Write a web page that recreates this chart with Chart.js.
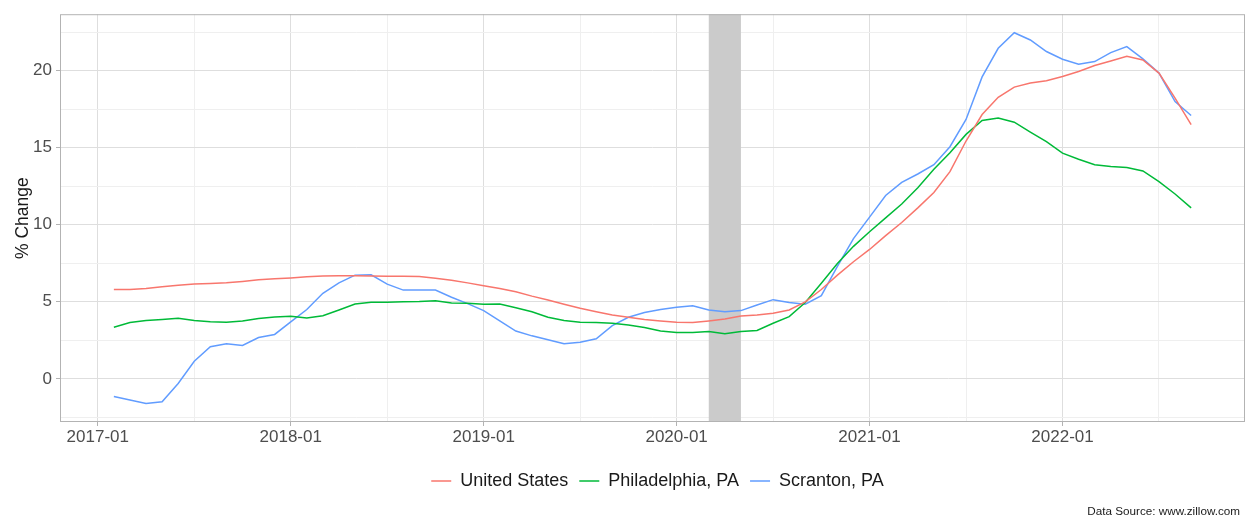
<!DOCTYPE html>
<html lang="en">
<head>
    <meta charset="UTF-8">
    <title>Home Value Change</title>
    <script src="https://cdn.jsdelivr.net/npm/chart.js"></script>
    <style>
        html, body { margin: 0; padding: 0; background: #fff; }
        #wrap { width: 1246px; height: 519px; }
    </style>
</head>
<body>
    <div id="wrap"><canvas id="chart" width="1246" height="519"></canvas></div>

    <script>
        // month-end values, Jan 2017 .. Aug 2022
        const months = [
            '2017-01','2017-02','2017-03','2017-04','2017-05','2017-06','2017-07','2017-08','2017-09','2017-10','2017-11','2017-12',
            '2018-01','2018-02','2018-03','2018-04','2018-05','2018-06','2018-07','2018-08','2018-09','2018-10','2018-11','2018-12',
            '2019-01','2019-02','2019-03','2019-04','2019-05','2019-06','2019-07','2019-08','2019-09','2019-10','2019-11','2019-12',
            '2020-01','2020-02','2020-03','2020-04','2020-05','2020-06','2020-07','2020-08','2020-09','2020-10','2020-11','2020-12',
            '2021-01','2021-02','2021-03','2021-04','2021-05','2021-06','2021-07','2021-08','2021-09','2021-10','2021-11','2021-12',
            '2022-01','2022-02','2022-03','2022-04','2022-05','2022-06','2022-07','2022-08'
        ];

        const unitedStates = [
            5.80, 5.80, 5.87, 5.98, 6.08, 6.15, 6.19, 6.23, 6.32, 6.43, 6.49, 6.55,
            6.62, 6.68, 6.70, 6.70, 6.68, 6.66, 6.66, 6.64, 6.53, 6.40, 6.23, 6.04,
            5.87, 5.65, 5.37, 5.12, 4.84, 4.58, 4.36, 4.15, 4.00, 3.85, 3.76, 3.68,
            3.65, 3.76, 3.89, 4.08, 4.15, 4.26, 4.47, 5.00, 5.80, 6.73, 7.60, 8.40,
            9.30, 10.15, 11.10, 12.10, 13.45, 15.44, 17.16, 18.28, 18.94, 19.20, 19.35, 19.63,
            19.95, 20.34, 20.64, 20.94, 20.70, 19.85, 18.23, 16.50
        ];

        const philadelphia = [
            3.35, 3.65, 3.78, 3.85, 3.93, 3.78, 3.70, 3.68, 3.76, 3.91, 4.02, 4.06,
            3.95, 4.10, 4.47, 4.86, 4.97, 4.97, 5.00, 5.02, 5.07, 4.92, 4.90, 4.84,
            4.86, 4.62, 4.36, 4.00, 3.78, 3.68, 3.66, 3.61, 3.50, 3.33, 3.10, 3.00,
            3.00, 3.07, 2.92, 3.07, 3.14, 3.61, 4.04, 4.95, 6.20, 7.48, 8.60, 9.55,
            10.45, 11.35, 12.40, 13.60, 14.68, 15.87, 16.77, 16.94, 16.66, 16.02, 15.40, 14.65,
            14.26, 13.90, 13.78, 13.72, 13.50, 12.80, 12.00, 11.10
        ];

        const scranton = [
            -1.15, -1.38, -1.60, -1.49, -0.30, 1.14, 2.08, 2.28, 2.17, 2.68, 2.88, 3.70,
            4.50, 5.55, 6.23, 6.73, 6.75, 6.15, 5.76, 5.76, 5.76, 5.30, 4.88, 4.43,
            3.76, 3.10, 2.79, 2.54, 2.28, 2.38, 2.60, 3.45, 4.00, 4.30, 4.50, 4.64,
            4.75, 4.47, 4.36, 4.43, 4.79, 5.14, 4.95, 4.84, 5.40, 7.30, 9.10, 10.50,
            11.90, 12.75, 13.30, 13.90, 15.07, 16.84, 19.60, 21.46, 22.47, 22.00, 21.25, 20.75,
            20.43, 20.60, 21.18, 21.57, 20.77, 19.85, 18.00, 17.10
        ];

        const seriesNames = ['United States', 'Philadelphia, PA', 'Scranton, PA'];
        const seriesColors = ['#F8766D', '#00BA38', '#619CFF'];

        const xTickLabels = ['2017-01', '2018-01', '2019-01', '2020-01', '2021-01', '2022-01'];
        const yTicks = [0, 5, 10, 15, 20];

        // shaded recession period (month-end)
        const recession = ['2020-02', '2020-04'];

        const sourceNote = 'Data Source: www.zillow.com';

        // months since Jan 2017 (start of month)
        function monthStart(s) {
            const [y, m] = s.split('-').map(Number);
            return (y - 2017) * 12 + (m - 1);
        }
        // end of month ~ start of next one
        function monthEnd(s) {
            return monthStart(s) + 1;
        }

        function toPoints(vals) {
            return vals.map((v, i) => ({ x: monthEnd(months[i]), y: v }));
        }

        // ggplot style 5% expansion
        function expand(lo, hi) {
            const pad = (hi - lo) * 0.05;
            return [lo - pad, hi + pad];
        }

        const allY = unitedStates.concat(philadelphia, scranton);
        const xs = months.map(monthEnd);
        const [xMin, xMax] = expand(Math.min(...xs), Math.max(...xs));
        const [yMin, yMax] = expand(Math.min(...allY), Math.max(...allY));

        const xMajor = xTickLabels.map(monthStart);
        const xMinor = xMajor.map(v => v + 6).filter(v => v < xMax);
        const yMinor = yTicks.map(v => v - 2.5).concat([yTicks[yTicks.length - 1] + 2.5]);

        const FONT = "'Liberation Sans', Arial, Helvetica, sans-serif";

        // grey band for the recession, drawn under the lines
        const bandPlugin = {
            id: 'band',
            beforeDatasetsDraw(chart) {
                const { ctx, chartArea, scales } = chart;
                const x0 = scales.x.getPixelForValue(monthEnd(recession[0]));
                const x1 = scales.x.getPixelForValue(monthEnd(recession[1]));
                ctx.save();
                ctx.fillStyle = '#CBCBCB';
                ctx.fillRect(x0, chartArea.top, x1 - x0, chartArea.bottom - chartArea.top);
                ctx.restore();
            },
            afterLayout(chart) {
                // center the legend over the panel like ggplot
                if (chart.legend) {
                    chart.legend.left = chart.chartArea.left + 5;
                    chart.legend.right = chart.chartArea.right + 5;
                }
            },
            afterDraw(chart) {
                const { ctx, chartArea } = chart;
                ctx.save();
                ctx.strokeStyle = '#B3B3B3';
                ctx.lineWidth = 1;
                ctx.strokeRect(chartArea.left + 0.5, chartArea.top + 0.5,
                    chartArea.right - chartArea.left - 1, chartArea.bottom - chartArea.top - 1);
                ctx.fillStyle = '#1A1A1A';
                ctx.font = '11.7px ' + FONT;
                ctx.textAlign = 'right';
                ctx.textBaseline = 'middle';
                ctx.fillText(sourceNote, chart.width - 6, 512);
                ctx.restore();
            }
        };

        const datasets = [unitedStates, philadelphia, scranton].map((vals, i) => ({
            label: seriesNames[i],
            data: toPoints(vals),
            borderColor: seriesColors[i],
            backgroundColor: seriesColors[i],
            borderWidth: 1.5,
            pointRadius: 0,
            pointStyle: 'line',
            tension: 0,
            fill: false
        }));

        new Chart(document.getElementById('chart').getContext('2d'), {
            type: 'line',
            data: { datasets: datasets },
            plugins: [bandPlugin],
            options: {
                responsive: false,
                animation: false,
                layout: { padding: { left: 0, right: 1, top: 11, bottom: 19 } },
                plugins: {
                    legend: {
                        position: 'bottom',
                        align: 'center',
                        labels: {
                            usePointStyle: true,
                            pointStyleWidth: 20,
                            padding: 11,
                            color: '#1A1A1A',
                            font: { family: FONT, size: 18 }
                        }
                    },
                    tooltip: { enabled: false }
                },
                scales: {
                    x: {
                        type: 'linear',
                        min: xMin,
                        max: xMax,
                        afterBuildTicks: s => {
                            s.ticks = xMajor.concat(xMinor).sort((a, b) => a - b).map(v => ({ value: v }));
                        },
                        afterFit: s => { s.height = 39; },
                        ticks: {
                            autoSkip: false,
                            maxRotation: 0,
                            padding: 1,
                            color: '#4D4D4D',
                            font: { family: FONT, size: 17 },
                            callback: v => {
                                const i = xMajor.indexOf(v);
                                return i >= 0 ? xTickLabels[i] : '';
                            }
                        },
                        grid: {
                            color: c => xMajor.includes(c.tick.value) ? '#DEDEDE' : '#EFEFEF',
                            tickColor: c => xMajor.includes(c.tick.value) ? '#B3B3B3' : 'rgba(0,0,0,0)',
                            tickLength: 4,
                            lineWidth: 1
                        },
                        border: { display: false }
                    },
                    y: {
                        min: yMin,
                        max: yMax,
                        afterBuildTicks: s => {
                            s.ticks = yTicks.concat(yMinor).sort((a, b) => a - b).map(v => ({ value: v }));
                        },
                        afterFit: s => { s.width = 60; },
                        ticks: {
                            padding: 4,
                            color: '#4D4D4D',
                            font: { family: FONT, size: 17 },
                            callback: v => yTicks.includes(v) ? String(v) : ''
                        },
                        grid: {
                            color: c => yTicks.includes(c.tick.value) ? '#DEDEDE' : '#EFEFEF',
                            tickColor: c => yTicks.includes(c.tick.value) ? '#B3B3B3' : 'rgba(0,0,0,0)',
                            tickLength: 4,
                            lineWidth: 1
                        },
                        border: { display: false },
                        title: {
                            display: true,
                            text: '% Change',
                            color: '#1A1A1A',
                            font: { family: FONT, size: 17.5 },
                            padding: { top: 13, bottom: 0 }
                        }
                    }
                }
            }
        });
    </script>
</body>
</html>
